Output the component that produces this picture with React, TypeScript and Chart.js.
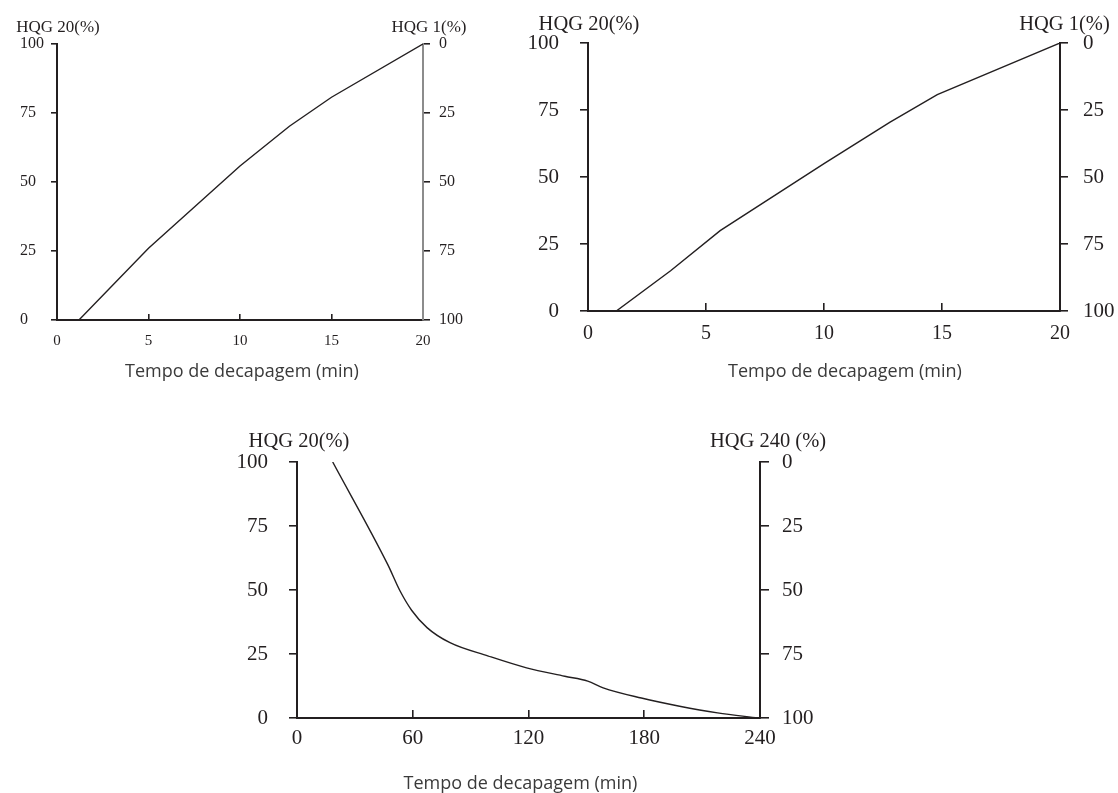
import React, { useEffect, useRef } from 'react';
import { Chart, registerables } from 'chart.js';

Chart.register(...registerables);

// ---- data ----
// Top-left panel
const timeA = [1.2, 5, 10, 12.7, 15, 20];
const hqgA = [0, 26, 55.8, 70.2, 80.7, 100];
// Top-right panel
const timeB = [1.2, 3.5, 5.6, 10, 12.8, 14.8, 20];
const hqgB = [0, 15, 30, 55, 70.5, 80.7, 100];
// Bottom panel
const timeC = [18.5, 47, 53.5, 59.5, 67.4, 79.3, 99.2, 119, 138.8, 150.7, 158.7, 178.5, 198.3, 218, 239];
const hqgC = [100, 60, 49.5, 42, 35.3, 29.4, 24.2, 19.6, 16.3, 14.4, 11.8, 7.8, 4.6, 2, 0];

const xTicksShort = [0, 5, 10, 15, 20];
const xTicksLong = [0, 60, 120, 180, 240];
const pctTicks = [0, 25, 50, 75, 100];

const leftTitle = 'HQG 20(%)';
const rightTitleAB = 'HQG 1(%)';
const rightTitleC = 'HQG 240 (%)';
const xTitle = 'Tempo de decapagem (min)';

// ---- styles ----
const INK = '#231f20';
const SERIF = '"Liberation Serif", "Times New Roman", serif';
const SANS = '"Open Sans", "Noto Sans", sans-serif';

type TextItem = {
  text: string;
  anchor: 'left' | 'right' | 'center';
  from: 'top' | 'bottom';
  dx: number;
  dy: number;
  font: string;
  color: string;
};

function textPlugin(items: TextItem[]) {
  return {
    id: 'axisTexts',
    afterDraw(chart: any) {
      const { ctx, chartArea } = chart;
      items.forEach((it) => {
        const x =
          it.anchor === 'left'
            ? chartArea.left
            : it.anchor === 'right'
            ? chartArea.right
            : (chartArea.left + chartArea.right) / 2;
        const y = it.from === 'top' ? chartArea.top - it.dy : chartArea.bottom + it.dy;
        ctx.save();
        ctx.font = it.font;
        ctx.fillStyle = it.color;
        ctx.textAlign = 'center';
        ctx.textBaseline = 'alphabetic';
        ctx.fillText(it.text, x + it.dx, y);
        ctx.restore();
      });
    },
  };
}

type Spec = {
  box: { left: number; top: number; width: number; height: number };
  time: number[];
  values: number[];
  xTicks: number[];
  xMax: number;
  smooth: boolean;
  padLeft: number;
  padTop: number;
  yLeftWidth: number;
  yRightWidth: number;
  xHeight: number;
  xTick: number;
  xFont: number;
  xPad: number;
  yFont: number;
  yLeftTick: number;
  yLeftPad: number;
  yLeftAlign: 'near' | 'far' | 'center';
  yRightTick: number;
  yRightPad: number;
  rightBorder: string;
  texts: TextItem[];
};

function makeConfig(s: Spec): any {
  return {
    type: 'line',
    data: {
      datasets: [
        {
          data: s.time.map((t, i) => ({ x: t, y: s.values[i] })),
          borderColor: INK,
          borderWidth: 1.4,
          pointRadius: 0,
          fill: false,
          tension: s.smooth ? 0.4 : 0,
          cubicInterpolationMode: s.smooth ? 'monotone' : 'default',
          yAxisID: 'y',
        },
      ],
    },
    options: {
      responsive: false,
      animation: false,
      layout: { padding: { left: s.padLeft, top: s.padTop, right: 0, bottom: 0 } },
      plugins: { legend: { display: false }, tooltip: { enabled: false } },
      scales: {
        x: {
          type: 'linear',
          position: 'bottom',
          min: 0,
          max: s.xMax,
          afterBuildTicks: (sc: any) => {
            sc.ticks = s.xTicks.map((v) => ({ value: v }));
          },
          afterFit: (sc: any) => {
            sc.height = s.xHeight;
          },
          grid: {
            drawOnChartArea: false,
            drawTicks: true,
            tickLength: -s.xTick,
            color: INK,
            lineWidth: 1.6,
          },
          border: { display: true, color: INK, width: 2 },
          ticks: {
            font: { family: SERIF, size: s.xFont },
            color: INK,
            padding: s.xPad,
            maxRotation: 0,
            autoSkip: false,
          },
        },
        y: {
          type: 'linear',
          position: 'left',
          min: 0,
          max: 100,
          afterBuildTicks: (sc: any) => {
            sc.ticks = pctTicks.map((v) => ({ value: v }));
          },
          afterFit: (sc: any) => {
            sc.width = s.yLeftWidth;
          },
          grid: {
            drawOnChartArea: false,
            drawTicks: true,
            tickLength: s.yLeftTick,
            color: INK,
            lineWidth: 1.6,
          },
          border: { display: true, color: INK, width: 2 },
          ticks: {
            font: { family: SERIF, size: s.yFont },
            color: INK,
            padding: s.yLeftPad,
            crossAlign: s.yLeftAlign,
          },
        },
        y2: {
          type: 'linear',
          position: 'right',
          reverse: true,
          min: 0,
          max: 100,
          afterBuildTicks: (sc: any) => {
            sc.ticks = pctTicks.map((v) => ({ value: v }));
          },
          afterFit: (sc: any) => {
            sc.width = s.yRightWidth;
          },
          grid: {
            drawOnChartArea: false,
            drawTicks: true,
            tickLength: s.yRightTick,
            color: INK,
            lineWidth: 1.6,
          },
          border: { display: true, color: s.rightBorder, width: 2 },
          ticks: {
            font: { family: SERIF, size: s.yFont },
            color: INK,
            padding: s.yRightPad,
            crossAlign: 'near',
          },
        },
      },
    },
    plugins: [textPlugin(s.texts)],
  };
}

const TITLE_COLOR = '#3a3a3a';

const specA: Spec = {
  box: { left: 0, top: 0, width: 480, height: 395 },
  time: timeA,
  values: hqgA,
  xTicks: xTicksShort,
  xMax: 20,
  smooth: false,
  padLeft: 20,
  padTop: 44,
  yLeftWidth: 37,
  yRightWidth: 57,
  xHeight: 75,
  xTick: 6,
  xFont: 15,
  xPad: 18,
  yFont: 16,
  yLeftTick: 6,
  yLeftPad: 6,
  yLeftAlign: 'far',
  yRightTick: 7,
  yRightPad: 9,
  rightBorder: '#8c8c8c',
  texts: [
    { text: leftTitle, anchor: 'left', from: 'top', dx: 1, dy: 12.3, font: `17px ${SERIF}`, color: INK },
    { text: rightTitleAB, anchor: 'right', from: 'top', dx: 6, dy: 12.3, font: `17px ${SERIF}`, color: INK },
    { text: xTitle, anchor: 'center', from: 'bottom', dx: 2, dy: 56.7, font: `18px ${SANS}`, color: TITLE_COLOR },
  ],
};

const specB: Spec = {
  box: { left: 480, top: 0, width: 638, height: 395 },
  time: timeB,
  values: hqgB,
  xTicks: xTicksShort,
  xMax: 20,
  smooth: false,
  padLeft: 0,
  padTop: 43,
  yLeftWidth: 108,
  yRightWidth: 58,
  xHeight: 84,
  xTick: 8,
  xFont: 20,
  xPad: 18.5,
  yFont: 21,
  yLeftTick: 8,
  yLeftPad: 21,
  yLeftAlign: 'near',
  yRightTick: 8,
  yRightPad: 15,
  rightBorder: INK,
  texts: [
    { text: leftTitle, anchor: 'left', from: 'top', dx: 1, dy: 13.4, font: `20.5px ${SERIF}`, color: INK },
    { text: rightTitleAB, anchor: 'right', from: 'top', dx: 4.5, dy: 13.4, font: `20.5px ${SERIF}`, color: INK },
    { text: xTitle, anchor: 'center', from: 'bottom', dx: 21, dy: 65.7, font: `18px ${SANS}`, color: TITLE_COLOR },
  ],
};

const specC: Spec = {
  box: { left: 200, top: 400, width: 660, height: 393 },
  time: timeC,
  values: hqgC,
  xTicks: xTicksLong,
  xMax: 240,
  smooth: true,
  padLeft: 0,
  padTop: 62,
  yLeftWidth: 97,
  yRightWidth: 100,
  xHeight: 75,
  xTick: 8,
  xFont: 21,
  xPad: 16,
  yFont: 21,
  yLeftTick: 8,
  yLeftPad: 21,
  yLeftAlign: 'near',
  yRightTick: 9,
  yRightPad: 13,
  rightBorder: INK,
  texts: [
    { text: leftTitle, anchor: 'left', from: 'top', dx: 2, dy: 15, font: `20.5px ${SERIF}`, color: INK },
    { text: rightTitleC, anchor: 'right', from: 'top', dx: 8, dy: 15, font: `20.5px ${SERIF}`, color: INK },
    { text: xTitle, anchor: 'center', from: 'bottom', dx: -8, dy: 70.8, font: `18px ${SANS}`, color: TITLE_COLOR },
  ],
};

function Panel({ spec }: { spec: Spec }) {
  const ref = useRef<HTMLCanvasElement | null>(null);
  useEffect(() => {
    if (!ref.current) return;
    const chart = new Chart(ref.current, makeConfig(spec));
    return () => chart.destroy();
  }, [spec]);
  return (
    <canvas
      ref={ref}
      width={spec.box.width}
      height={spec.box.height}
      style={{
        position: 'absolute',
        left: spec.box.left,
        top: spec.box.top,
        width: spec.box.width,
        height: spec.box.height,
      }}
    />
  );
}

export default function App() {
  return (
    <div
      style={{
        position: 'fixed',
        left: 0,
        top: 0,
        width: 1118,
        height: 793,
        background: '#ffffff',
        overflow: 'hidden',
      }}
    >
      <Panel spec={specA} />
      <Panel spec={specB} />
      <Panel spec={specC} />
    </div>
  );
}
